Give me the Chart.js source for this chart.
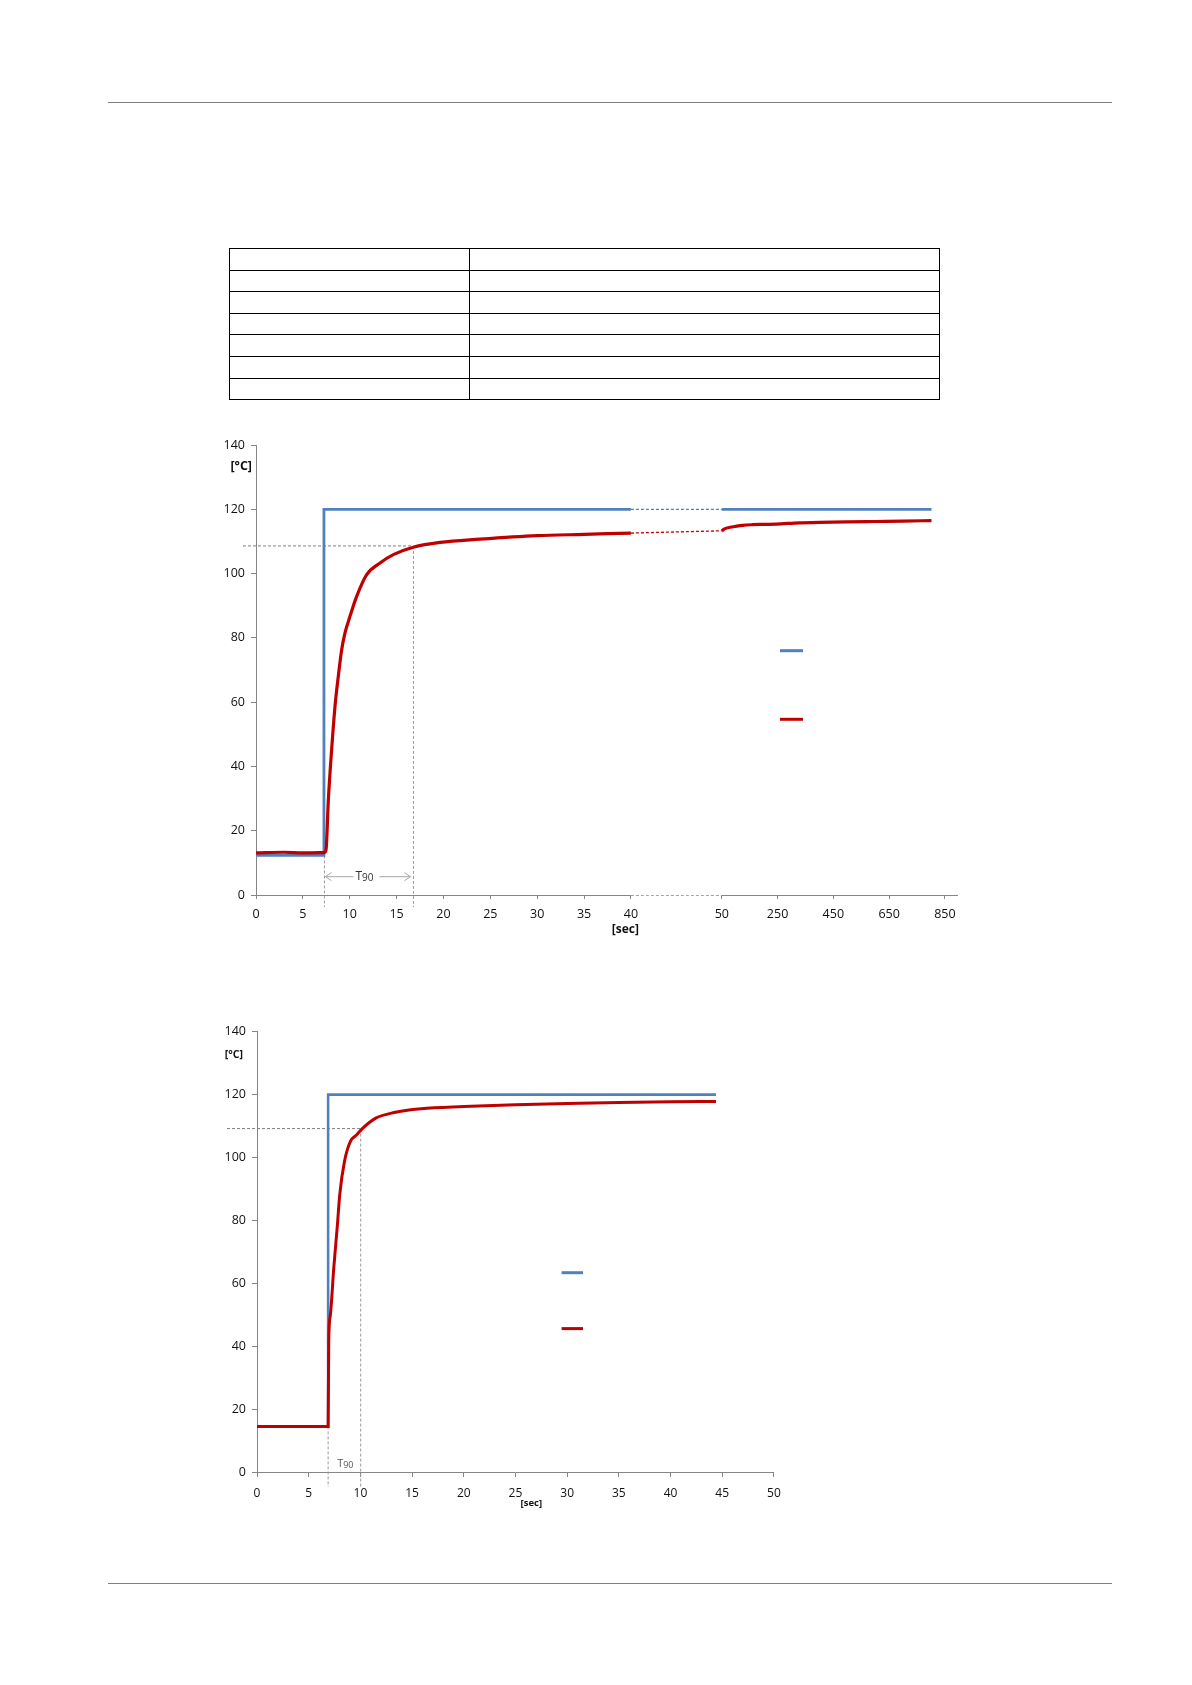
<!DOCTYPE html>
<html><head><meta charset="utf-8">
<script src="https://cdn.jsdelivr.net/npm/chart.js@4.4.0/dist/chart.umd.min.js"></script>
<style>
html,body{margin:0;padding:0;background:#fff;}
body{width:1192px;height:1685px;position:relative;overflow:hidden;font-family:'Open Sans',sans-serif;}
.rule{position:absolute;left:108px;width:1004px;height:0;border-top:1px solid #808080;}
table{position:absolute;left:229px;top:248px;width:710px;border-collapse:collapse;table-layout:fixed;}
td{border:1px solid #000;height:20.6px;padding:0;}
canvas{position:absolute;}
</style></head>
<body>
<div class="rule" style="top:102px"></div>
<table>
<colgroup><col style="width:240px"><col style="width:470px"></colgroup>
<tr><td></td><td></td></tr>
<tr><td></td><td></td></tr>
<tr><td></td><td></td></tr>
<tr><td></td><td></td></tr>
<tr><td></td><td></td></tr>
<tr><td></td><td></td></tr>
<tr><td></td><td></td></tr>
</table>
<canvas id="c1" width="810" height="530" style="left:170px;top:420px"></canvas>
<canvas id="c2" width="630" height="520" style="left:170px;top:1000px"></canvas>
<div class="rule" style="top:1583px"></div>
<script>
// ---------- DATA: chart 1 (short-term 0..40 s, then long-term 50..850 s) ----------
const redT1  = [0, 3, 5, 7.3, 7.47, 7.72, 8.07, 8.43, 8.78, 9.14, 9.49, 10.03, 10.74, 11.81, 13.23, 14.65, 16.78, 19.63, 23.9, 30, 35, 40];
const redV1  = [13.1, 13.3, 13.1, 13.2, 14.0, 29.6, 45.2, 58.7, 68.0, 76.3, 81.5, 86.7, 92.9, 99.7, 103.3, 105.9, 108.2, 109.7, 110.7, 111.8, 112.2, 112.6];
const redT1b = [50, 60, 80, 100, 124, 160, 200, 245, 329, 400, 500, 600, 700, 802];
const redV1b = [113.3, 113.9, 114.4, 114.7, 115.0, 115.2, 115.3, 115.4, 115.8, 115.9, 116.1, 116.2, 116.3, 116.5];
const blueT1  = [0, 7.25, 7.25, 40];
const blueV1  = [12.3, 12.3, 120, 120];
const blueT1b = [50, 802];
const blueV1b = [120, 120];
const xTickSecs1   = [0, 5, 10, 15, 20, 25, 30, 35, 40, 50, 250, 450, 650, 850];
const xTickLabels1 = ['0','5','10','15','20','25','30','35','40','50','250','450','650','850'];
const t90Chart1 = {start: 7.3, end: 16.8, level: 108.6, base: 12.3};

// ---------- DATA: chart 2 ----------
const redT2  = [0, 6.88, 6.94, 7.1, 7.43, 7.76, 8.01, 8.47, 9.06, 9.54, 10.19, 11.49, 13.27, 15.87, 20, 25, 30, 35, 40, 44.4];
const redV2  = [14.5, 14.5, 41.8, 50.0, 65.1, 77.8, 88.4, 98.9, 105.3, 106.9, 109.2, 112.5, 114.3, 115.5, 116.2, 116.8, 117.2, 117.5, 117.7, 117.8];
const blueT2 = [0, 6.88, 6.88, 44.4];
const blueV2 = [14.5, 14.5, 120, 120];
const t90Chart2 = {start: 6.88, end: 10.03, level: 109.2, base: 14.5};

const yMin = 0, yMax = 140, yStep = 20;

// broken time axis of chart 1: linear 0..40 s, then a compressed 50..850 s section
const BREAK_POS = 49.7, LONG_SCALE = 0.02975, AXIS1_MAX = 74.9;
function toAxis1(t){ return t <= 40 ? t : BREAK_POS + (t - 50) * LONG_SCALE; }
function pts(ts, vs, f){ return ts.map((t,i)=>({x: f ? f(t) : t, y: vs[i]})); }

const BLUE = '#4F81BD', RED = '#C00000', AXIS = '#868686', GUIDE = '#7f7f7f', TXT = '#111';
Chart.defaults.font.family = "'Open Sans', sans-serif";
Chart.defaults.color = TXT;

function dashLine(ctx, x1, y1, x2, y2, dash, color, w){
  ctx.save(); ctx.beginPath(); ctx.setLineDash(dash); ctx.strokeStyle = color; ctx.lineWidth = w || 1;
  ctx.moveTo(x1, y1); ctx.lineTo(x2, y2); ctx.stroke(); ctx.restore();
}
function drawT90Text(ctx, x, y, size, color){
  ctx.save(); ctx.fillStyle = color; ctx.textBaseline = 'middle'; ctx.textAlign = 'left';
  ctx.font = size + "px 'Open Sans', sans-serif";
  ctx.fillText('T', x, y);
  const w = ctx.measureText('T').width;
  ctx.font = Math.round(size*0.8) + "px 'Open Sans', sans-serif";
  ctx.fillText('90', x + w, y + size*0.15);
  const w2 = ctx.measureText('90').width;
  ctx.restore();
  return w + w2;
}
function legendLines(ctx, ca, dx1, dx2, dyBlue, dyRed){
  dashLine(ctx, ca.left+dx1, ca.top+dyBlue, ca.left+dx2, ca.top+dyBlue, [], BLUE, 3);
  dashLine(ctx, ca.left+dx1, ca.top+dyRed, ca.left+dx2, ca.top+dyRed, [], RED, 3);
}
function boldLabel(ctx, text, x, y, size, align){
  ctx.save(); ctx.fillStyle = TXT; ctx.font = "bold " + size + "px 'Open Sans', sans-serif";
  ctx.textAlign = align || 'left'; ctx.textBaseline = 'middle'; ctx.fillText(text, x, y); ctx.restore();
}

const guides1 = {
  id: 'guides1',
  beforeDatasetsDraw(chart){
    const {ctx, chartArea: ca, scales: {x, y}} = chart;
    const xs = x.getPixelForValue(toAxis1(t90Chart1.start)), xe = x.getPixelForValue(toAxis1(t90Chart1.end));
    const yl = y.getPixelForValue(t90Chart1.level);
    dashLine(ctx, ca.left - 13, yl, xe, yl, [3,2], GUIDE, 1);
    dashLine(ctx, xe, yl, xe, ca.bottom + 12, [3,2], '#9a9a9a', 1);
    dashLine(ctx, xs, y.getPixelForValue(t90Chart1.base), xs, ca.bottom + 12, [3,2], '#9a9a9a', 1);
    // x axis line with dashed break between 40 and 50 s
    const x40 = x.getPixelForValue(toAxis1(40)), x50 = x.getPixelForValue(toAxis1(50));
    dashLine(ctx, ca.left, ca.bottom + 0.5, x40, ca.bottom + 0.5, [], AXIS, 1);
    dashLine(ctx, x40, ca.bottom + 0.5, x50, ca.bottom + 0.5, [3,2], '#a6a6a6', 1);
    dashLine(ctx, x50, ca.bottom + 0.5, ca.right, ca.bottom + 0.5, [], AXIS, 1);
  },
  afterDraw(chart){
    const {ctx, chartArea: ca, scales: {x, y}} = chart;
    const xs = x.getPixelForValue(toAxis1(t90Chart1.start)), xe = x.getPixelForValue(toAxis1(t90Chart1.end));
    const ya = ca.bottom - 18.3;
    ctx.save();
    ctx.strokeStyle = '#a6a6a6'; ctx.lineWidth = 1;
    const tx = xs + 31;
    const tw = drawT90Text(ctx, tx, ya, 12, '#333');
    ctx.beginPath(); ctx.moveTo(xs + 1, ya); ctx.lineTo(tx - 2, ya); ctx.moveTo(tx + tw + 6, ya); ctx.lineTo(xe - 3, ya);
    ctx.moveTo(xs + 7, ya - 4); ctx.lineTo(xs + 1, ya); ctx.lineTo(xs + 7, ya + 4);
    ctx.moveTo(xe - 9, ya - 4); ctx.lineTo(xe - 3, ya); ctx.lineTo(xe - 9, ya + 4);
    ctx.stroke(); ctx.restore();
    boldLabel(ctx, '[°C]', ca.left - 4, ca.top + 21.7, 12.5, 'right');
    boldLabel(ctx, '[sec]', x.getPixelForValue(toAxis1(40)) + 8, ca.bottom + 35, 12, 'right');
    legendLines(ctx, ca, 524, 547, 205.7, 274.3);
  }
};

const guides2 = {
  id: 'guides2',
  beforeDatasetsDraw(chart){
    const {ctx, chartArea: ca, scales: {x, y}} = chart;
    const xs = x.getPixelForValue(t90Chart2.start), xe = x.getPixelForValue(t90Chart2.end);
    const yl = y.getPixelForValue(t90Chart2.level);
    dashLine(ctx, ca.left - 30, yl, xe, yl, [3,2], GUIDE, 1);
    dashLine(ctx, xe, yl, xe, ca.bottom + 15, [3,2], '#9a9a9a', 1);
    dashLine(ctx, xs, y.getPixelForValue(t90Chart2.base), xs, ca.bottom + 15, [3,2], '#9a9a9a', 1);
  },
  afterDraw(chart){
    const {ctx, chartArea: ca, scales: {x, y}} = chart;
    drawT90Text(ctx, x.getPixelForValue(t90Chart2.start) + 9, ca.bottom - 8, 11, '#595959');
    boldLabel(ctx, '[°C]', ca.left - 14, ca.top + 23.3, 10.5, 'right');
    boldLabel(ctx, '[sec]', (x.getPixelForValue(25)+x.getPixelForValue(30))/2 - 10, ca.bottom + 31.5, 9.5, 'center');
    legendLines(ctx, ca, 304.6, 326, 241, 296.9);
  }
};

function yScale(w, size){
  return {
    type: 'linear', min: yMin, max: yMax,
    ticks: {stepSize: yStep, padding: 6, font: {size}, color: TXT},
    grid: {display: true, drawOnChartArea: false, drawTicks: true, tickLength: 5, color: AXIS},
    border: {display: true, color: AXIS, width: 1},
    afterFit(s){ s.width = w; }
  };
}

const line = (data, color, width, extra) => Object.assign({
  data, borderColor: color, backgroundColor: color, borderWidth: width,
  pointRadius: 0, fill: false, tension: 0
}, extra || {});

// ----- chart 1 -----
const red1a = pts(redT1, redV1, toAxis1), red1b = pts(redT1b, redV1b, toAxis1);
const blue1a = pts(blueT1, blueV1, toAxis1), blue1b = pts(blueT1b, blueV1b, toAxis1);
new Chart(document.getElementById('c1'), {
  type: 'line',
  data: { datasets: [
    line(red1a, RED, 3.2, {order: 0, cubicInterpolationMode: 'monotone', tension: 0.4}),
    line(red1b, RED, 3.2, {order: 0, cubicInterpolationMode: 'monotone', tension: 0.4}),
    line([red1a[red1a.length-1], red1b[0]], RED, 1.3, {order: 0, borderDash: [3,2]}),
    line(blue1a, BLUE, 2.8, {order: 1}),
    line(blue1b, BLUE, 2.8, {order: 1}),
    line([blue1a[blue1a.length-1], blue1b[0]], BLUE, 1.3, {order: 1, borderDash: [3,2]})
  ]},
  options: {
    responsive: false, animation: false, parsing: true,
    layout: {padding: {top: 25, right: 22, left: 0, bottom: 0}},
    plugins: {legend: {display: false}, tooltip: {enabled: false}},
    scales: {
      x: {
        type: 'linear', min: 0, max: AXIS1_MAX,
        afterBuildTicks(s){ s.ticks = xTickSecs1.map(t => ({value: toAxis1(t)})); },
        ticks: {callback: (v, i) => xTickLabels1[i], autoSkip: false, maxRotation: 0, padding: 8, font: {size: 12.5}, color: TXT},
        grid: {display: true, drawOnChartArea: false, drawTicks: true, tickLength: 4, color: AXIS},
        border: {display: false},
        afterFit(s){ s.height = 55; }
      },
      y: yScale(86, 12.5)
    }
  },
  plugins: [guides1]
});

// ----- chart 2 -----
new Chart(document.getElementById('c2'), {
  type: 'line',
  data: { datasets: [
    line(pts(redT2, redV2), RED, 3, {order: 0, cubicInterpolationMode: 'monotone', tension: 0.4}),
    line(pts(blueT2, blueV2), BLUE, 2.6, {order: 1})
  ]},
  options: {
    responsive: false, animation: false,
    layout: {padding: {top: 31.7, right: 26.1, left: 0, bottom: 0}},
    plugins: {legend: {display: false}, tooltip: {enabled: false}},
    scales: {
      x: {
        type: 'linear', min: 0, max: 50,
        ticks: {stepSize: 5, autoSkip: false, maxRotation: 0, padding: 9, font: {size: 12}, color: TXT},
        grid: {display: true, drawOnChartArea: false, drawTicks: true, tickLength: 5, color: AXIS},
        border: {display: true, color: AXIS, width: 1},
        afterFit(s){ s.height = 48; }
      },
      y: yScale(87, 12.5)
    }
  },
  plugins: [guides2]
});
</script>
</body></html>
